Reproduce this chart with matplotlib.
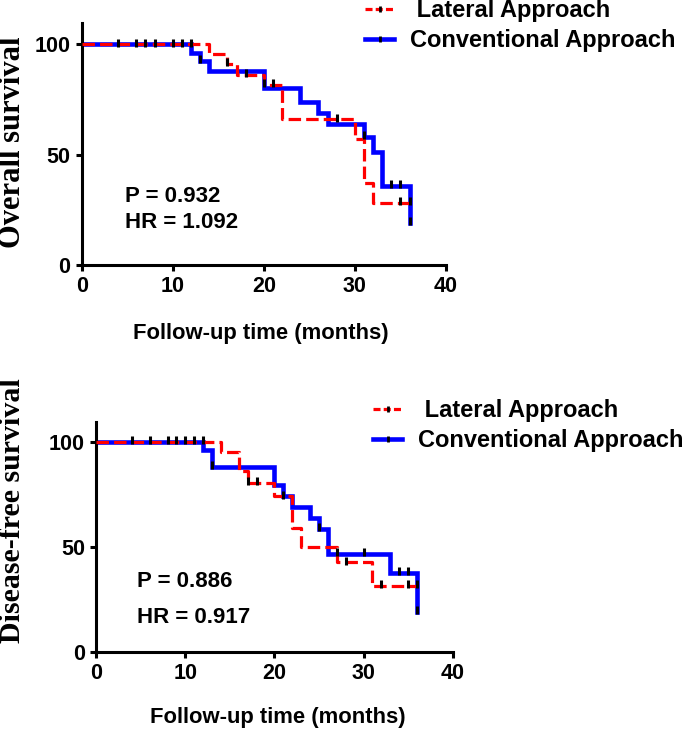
import numpy as np
import matplotlib
matplotlib.use("Agg")
import matplotlib.pyplot as plt
from matplotlib.lines import Line2D

# ---------------- data ----------------
series_names = [" Lateral Approach", "Conventional Approach"]
x_ticks = [0, 10, 20, 30, 40]
y_ticks = [0, 50, 100]
follow_up_end = 36

# Overall survival
os_lat_time = [0, 14, 16, 17, 20, 22, 30, 31, 32]
os_lat_surv = [100, 95.5, 91, 86, 81.5, 66, 57, 37, 28]
os_lat_cens = [6, 8, 11, 12, 16, 18, 20, 21, 28, 35, 36]
os_con_time = [0, 12, 13, 14, 20, 24, 26, 27, 31, 32, 33, 36]
os_con_surv = [100, 96, 92.5, 88, 80, 74, 69, 64, 58, 51, 36, 19]
os_con_cens = [4, 7, 10, 13, 31, 34, 35, 36]
os_stats = ["P = 0.932", "HR = 1.092"]

# Disease-free survival
dfs_lat_time = [0, 14, 16, 17, 20, 22, 23, 27, 31]
dfs_lat_surv = [100, 95, 86, 80.5, 74, 59, 50, 42.5, 31.5]
dfs_lat_cens = [6, 9, 11, 12, 17, 18, 28, 32, 35, 36]
dfs_con_time = [0, 12, 13, 20, 21, 22, 24, 25, 26, 33, 36]
dfs_con_surv = [100, 96, 88, 79.5, 74, 69, 63.5, 58.5, 46.5, 37.5, 19]
dfs_con_cens = [4, 8, 10, 13, 21, 25, 27, 30, 34, 35, 36]
dfs_stats = ["P = 0.886", "HR = 0.917"]

# ---------------- style ----------------
W, H = 685, 729
SANS = "Liberation Sans"
SERIF = "Liberation Serif"
RED = "#FF0000"
BLUE = "#0000FF"

fig = plt.figure(figsize=(W / 100, H / 100), dpi=100)


def px_rect(left, top, right, bottom):
    return [left / W, 1 - bottom / H, (right - left) / W, (bottom - top) / H]


def step_value(times, surv, t):
    idx = np.searchsorted(np.asarray(times), t, side="right") - 1
    return np.asarray(surv)[idx]


def draw_km(ax, times, surv, cens, color, style):
    xs = list(times) + [follow_up_end]
    ys = list(surv) + [surv[-1]]
    if style == "dash":
        ax.step(xs, ys, where="post", color=color, lw=2.3,
                dashes=(3.9, 1.6), zorder=3, solid_capstyle="butt")
    else:
        ax.step(xs, ys, where="post", color=color, lw=3.3, zorder=2,
                solid_joinstyle="miter")
    cy = [step_value(times, surv, t) for t in cens]
    ax.plot(cens, np.asarray(cy) + 0.8, ls="none", marker="|", ms=5.5,
            mew=2.2, color="black", zorder=4)


def style_axes(ax):
    ax.set_xlim(0, 40)
    ax.set_ylim(0, 109.5)
    ax.set_xticks(x_ticks)
    ax.set_yticks(y_ticks)
    for s in ["top", "right"]:
        ax.spines[s].set_visible(False)
    for s in ["left", "bottom"]:
        ax.spines[s].set_linewidth(2.2)
    ax.tick_params(direction="out", length=4, width=2.2, pad=4,
                   labelsize=15.5)
    for lab in ax.get_xticklabels() + ax.get_yticklabels():
        lab.set_fontfamily(SANS)
        lab.set_fontweight("bold")


def add_legend(ax, anchor_px):
    handles = [
        Line2D([0], [0], color=RED, lw=2.3, dashes=(2.2, 1.0),
               marker="|", ms=5, mew=2, mec="black"),
        Line2D([0], [0], color=BLUE, lw=3.3, marker="|", ms=5, mew=2,
               mec="black"),
    ]
    ax.legend(handles, series_names, loc="upper left",
              bbox_to_anchor=(anchor_px[0] / W, 1 - anchor_px[1] / H),
              bbox_transform=fig.transFigure, frameon=False, borderpad=0,
              borderaxespad=0, handlelength=1.23, handletextpad=0.68,
              labelspacing=0.3,
              prop={"family": SANS, "weight": "bold", "size": 17})


# ---- top panel: overall survival ----
ax1 = fig.add_axes(px_rect(81.7, 23.3, 446, 265))
draw_km(ax1, os_con_time, os_con_surv, os_con_cens, BLUE, "solid")
draw_km(ax1, os_lat_time, os_lat_surv, os_lat_cens, RED, "dash")
style_axes(ax1)
add_legend(ax1, (365, -1))
ax1.text(4.7, 28.5, os_stats[0], fontfamily=SANS, fontweight="bold",
         fontsize=16, va="baseline", ha="left")
ax1.text(4.7, 16.7, os_stats[1], fontfamily=SANS, fontweight="bold",
         fontsize=16, va="baseline", ha="left")
fig.text(13 / W, 1 - 142 / H, "Overall survival", rotation=90,
         fontfamily=SERIF, fontweight="bold", fontsize=22,
         ha="center", va="center")
fig.text(261 / W, 1 - 338.5 / H, "Follow-up time (months)",
         fontfamily=SANS, fontweight="bold", fontsize=15.8,
         ha="center", va="baseline")

# ---- bottom panel: disease-free survival ----
ax2 = fig.add_axes(px_rect(96.2, 421.7, 452.7, 651.7))
draw_km(ax2, dfs_con_time, dfs_con_surv, dfs_con_cens, BLUE, "solid")
draw_km(ax2, dfs_lat_time, dfs_lat_surv, dfs_lat_cens, RED, "dash")
style_axes(ax2)
add_legend(ax2, (373, 399))
ax2.text(4.6, 31, dfs_stats[0], fontfamily=SANS, fontweight="bold",
         fontsize=16, va="baseline", ha="left")
ax2.text(4.6, 13.5, dfs_stats[1], fontfamily=SANS, fontweight="bold",
         fontsize=16, va="baseline", ha="left")
fig.text(12.5 / W, 1 - 511 / H, "Disease-free survival", rotation=90,
         fontfamily=SERIF, fontweight="bold", fontsize=21.5,
         ha="center", va="center")
fig.text(278 / W, 1 - 722.7 / H, "Follow-up time (months)",
         fontfamily=SANS, fontweight="bold", fontsize=15.8,
         ha="center", va="baseline")

fig.savefig("out.png", dpi=100, facecolor="white")
